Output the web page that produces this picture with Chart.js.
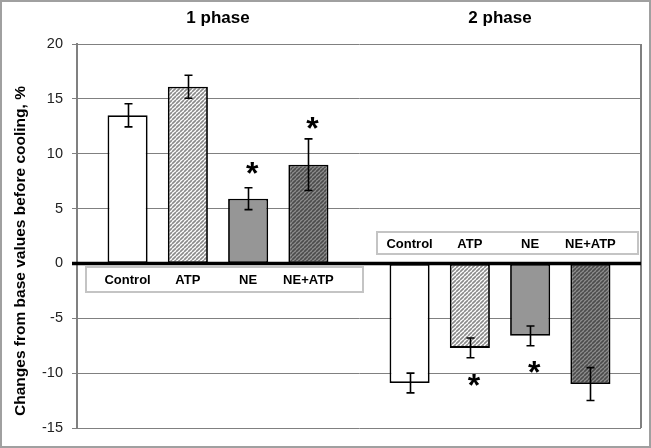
<!DOCTYPE html>
<html><head><meta charset="utf-8">
<script src="https://cdn.jsdelivr.net/npm/chart.js@4/dist/chart.umd.min.js"></script>
<style>html,body{margin:0;padding:0;background:#fff}#wrap{width:651px;height:448px;position:relative}</style>
</head><body><div id="wrap"><canvas id="c" width="651" height="448"></canvas></div>
<script>
const phases = ['1 phase', '2 phase'];
const groups = ['Control', 'ATP', 'NE', 'NE+ATP'];
const control = [13.5, -10.9];
const atp = [16.1, -7.7];
const ne = [5.9, -6.6];
const neAtp = [9.0, -11.0];
const controlErr = [1.05, 0.9];
const atpErr = [1.05, 0.9];
const neErr = [1.0, 0.9];
const neAtpErr = [2.35, 1.5];
// significance asterisks: [group index, phase index, value level]
const stars = [[2, 0, 8.8], [3, 0, 12.9], [1, 1, -10.5], [2, 1, -9.3]];
const yMin = -15, yMax = 20, yStep = 5;

function hatch(bg, fg, size) {
  const c = document.createElement('canvas');
  c.width = c.height = size;
  const g = c.getContext('2d');
  g.fillStyle = bg; g.fillRect(0, 0, size, size);
  g.strokeStyle = fg; g.lineWidth = 1.6;
  g.beginPath();
  for (let k = -1; k <= 1; k++) { g.moveTo(k * size, size); g.lineTo(k * size + size, 0); }
  g.stroke();
  return g.createPattern(c, 'repeat');
}
const fills = ['#ffffff', hatch('#ffffff', '#8a8a8a', 4), '#969696', hatch('#8e8e8e', '#4c4c4c', 4)];
const values = [control, atp, ne, neAtp];
const errs = [controlErr, atpErr, neErr, neAtpErr];

const decor = {
  id: 'decor',
  beforeDraw(chart) {
    const ctx = chart.ctx;
    ctx.save(); ctx.fillStyle = '#fff'; ctx.fillRect(0, 0, chart.width, chart.height); ctx.restore();
  },
  afterDatasetsDraw(chart) {
    const { ctx, chartArea: a, scales: { y } } = chart;
    ctx.save();
    ctx.strokeStyle = '#808080'; ctx.lineWidth = 2;
    ctx.beginPath(); ctx.moveTo(a.right, a.top); ctx.lineTo(a.right, a.bottom); ctx.stroke();
    const y0 = y.getPixelForValue(0);
    ctx.strokeStyle = '#000'; ctx.lineWidth = 3.5;
    ctx.beginPath(); ctx.moveTo(a.left - 5, y0); ctx.lineTo(a.right, y0); ctx.stroke();
    ctx.lineWidth = 1.6; ctx.strokeStyle = '#000';
    values.forEach((vals, i) => {
      const meta = chart.getDatasetMeta(i);
      vals.forEach((v, j) => {
        const bx = Math.round(meta.data[j].x) + 0.5;
        const t = y.getPixelForValue(v + errs[i][j]);
        const b = y.getPixelForValue(v - errs[i][j]);
        ctx.beginPath();
        ctx.moveTo(bx, t); ctx.lineTo(bx, b);
        ctx.moveTo(bx - 4, t); ctx.lineTo(bx + 4, t);
        ctx.moveTo(bx - 4, b); ctx.lineTo(bx + 4, b);
        ctx.stroke();
      });
    });
    ctx.fillStyle = '#000';
    ctx.font = 'bold 32px Arial, "Liberation Sans", sans-serif';
    ctx.textAlign = 'center'; ctx.textBaseline = 'alphabetic';
    stars.forEach(([i, j, v]) => {
      const bx = chart.getDatasetMeta(i).data[j].x + 4;
      ctx.fillText('*', bx, y.getPixelForValue(v) + 17.5);
    });
    const boxes = [[86, 267, 277, 25], [377, 232, 261, 22]];
    boxes.forEach((bb, j) => {
      ctx.fillStyle = '#fff'; ctx.fillRect(bb[0], bb[1], bb[2], bb[3]);
      ctx.strokeStyle = '#c4c4c4'; ctx.lineWidth = 2;
      ctx.strokeRect(bb[0], bb[1], bb[2], bb[3]);
      ctx.fillStyle = '#000';
      ctx.font = 'bold 13px Arial, "Liberation Sans", sans-serif';
      ctx.textAlign = 'center'; ctx.textBaseline = 'middle';
      groups.forEach((g, i) => {
        ctx.fillText(g, chart.getDatasetMeta(i).data[j].x, bb[1] + bb[3] / 2 + 1);
      });
    });
    ctx.save();
    ctx.translate(25, 251); ctx.rotate(-Math.PI / 2);
    ctx.font = 'bold 15.5px Arial, "Liberation Sans", sans-serif';
    ctx.textAlign = 'center'; ctx.textBaseline = 'alphabetic';
    ctx.fillStyle = '#000';
    ctx.fillText('Changes from base values before cooling, %', 0, 0);
    ctx.restore();
    ctx.strokeStyle = '#a0a0a0'; ctx.lineWidth = 2;
    ctx.strokeRect(1, 1, chart.width - 2, chart.height - 2);
    ctx.restore();
  }
};

new Chart(document.getElementById('c'), {
  type: 'bar',
  data: {
    labels: phases,
    datasets: groups.map((g, i) => ({
      label: g,
      data: values[i],
      backgroundColor: fills[i],
      borderColor: '#000',
      borderWidth: 1.8,
      borderSkipped: false,
      categoryPercentage: 0.855,
      barPercentage: 0.665
    }))
  },
  options: {
    responsive: false,
    devicePixelRatio: 1,
    animation: false,
    layout: { padding: { left: 0, top: 0, right: 10, bottom: 20 } },
    plugins: { legend: { display: false }, tooltip: { enabled: false } },
    scales: {
      x: {
        position: 'top',
        grid: { display: false, drawTicks: false },
        border: { display: false },
        ticks: { color: '#000', font: { family: 'Arial, "Liberation Sans", sans-serif', size: 17, weight: 'bold' }, padding: 15 },
        afterFit(s) { s.height = 44; }
      },
      y: {
        min: yMin, max: yMax,
        ticks: { stepSize: yStep, color: '#222', font: { family: 'Arial, "Liberation Sans", sans-serif', size: 14.5 }, padding: 9 },
        grid: { color: '#808080', lineWidth: 1, tickLength: 5, drawTicks: true },
        border: { display: true, color: '#808080', width: 2 },
        afterFit(s) { s.width = 77; }
      }
    }
  },
  plugins: [decor]
});
</script>
</body></html>
